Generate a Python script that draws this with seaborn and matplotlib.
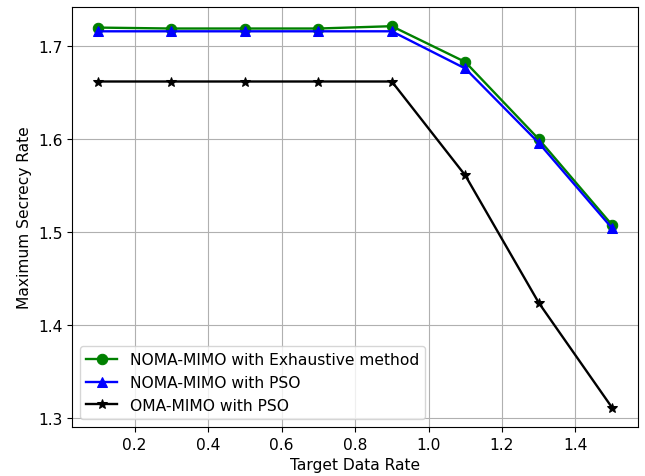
import matplotlib
matplotlib.use("Agg")
import matplotlib.pyplot as plt
import seaborn as sns
import pandas as pd

x_rate = [0.1, 0.3, 0.5, 0.7, 0.9, 1.1, 1.3, 1.5]
noma_exhaustive = [1.720, 1.719, 1.719, 1.719, 1.7215, 1.683, 1.600, 1.5075]
noma_pso = [1.716, 1.716, 1.716, 1.716, 1.716, 1.676, 1.596, 1.504]
oma_pso = [1.662, 1.662, 1.662, 1.662, 1.662, 1.561, 1.424, 1.311]

labels = ["NOMA-MIMO with Exhaustive method", "NOMA-MIMO with PSO", "OMA-MIMO with PSO"]
series = [noma_exhaustive, noma_pso, oma_pso]
colors = ["green", "blue", "black"]
markers = ["o", "^", "*"]

plt.rcParams["font.size"] = 11.2

fig = plt.figure(figsize=(6.45, 4.77), dpi=100)
ax = fig.add_axes([0.112, 0.103, 0.877, 0.880])

for lab, vals, c, m in zip(labels, series, colors, markers):
    df = pd.DataFrame({"x": x_rate, "y": vals})
    sns.lineplot(data=df, x="x", y="y", ax=ax, color=c, marker=m, markersize=7.5,
                 markeredgecolor=c, label=lab, linewidth=1.7)

ax.grid(True)
ax.set_xlabel("Target Data Rate", fontsize=11.2)
ax.set_ylabel("Maximum Secrecy Rate", fontsize=11.2)
ax.tick_params(labelsize=11.2)
ax.set_yticks([1.3, 1.4, 1.5, 1.6, 1.7])
ax.legend(loc="lower left", fontsize=11.2)
fig.savefig("out.png", dpi=100)
